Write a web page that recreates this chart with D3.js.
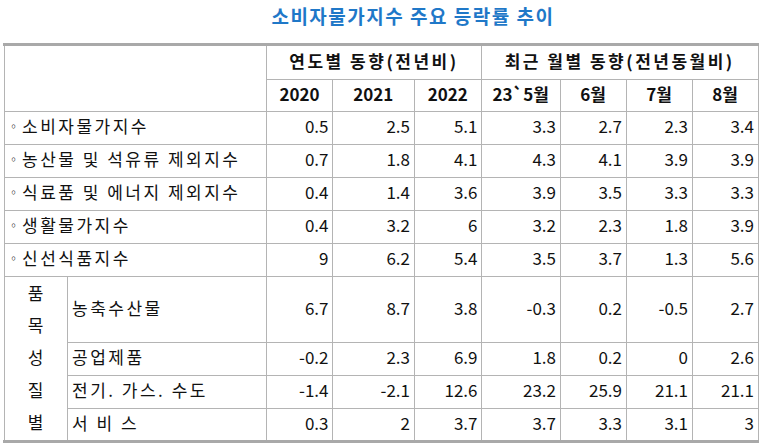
<!DOCTYPE html>
<html>
<head>
<meta charset="utf-8">
<script src="https://cdn.jsdelivr.net/npm/d3@7"></script>
<style>
  body { margin: 0; background: #fff; }
  text { font-family: "Noto Sans CJK KR", "Noto Sans", sans-serif; fill: #111; }
  .kr { letter-spacing: 2.5px; }
</style>
</head>
<body>
<div id="chart"></div>
<script>
// data
var title = "소비자물가지수 주요 등락률 추이";
var groupHeads = ["연도별 동향(전년비)", "최근 월별 동향(전년동월비)"];
var colHeads = ["2020", "2021", "2022", "23`5월", "6월", "7월", "8월"];
var rowLabels = ["소비자물가지수", "농산물 및 석유류 제외지수", "식료품 및 에너지 제외지수",
                 "생활물가지수", "신선식품지수", "농축수산물", "공업제품", "전기. 가스. 수도", "서 비 스"];
var sideLabel = ["품", "목", "성", "질", "별"];
var values = [
  [0.5, 2.5, 5.1, 3.3, 2.7, 2.3, 3.4],
  [0.7, 1.8, 4.1, 4.3, 4.1, 3.9, 3.9],
  [0.4, 1.4, 3.6, 3.9, 3.5, 3.3, 3.3],
  [0.4, 3.2, 6, 3.2, 2.3, 1.8, 3.9],
  [9, 6.2, 5.4, 3.5, 3.7, 1.3, 5.6],
  [6.7, 8.7, 3.8, -0.3, 0.2, -0.5, 2.7],
  [-0.2, 2.3, 6.9, 1.8, 0.2, 0, 2.6],
  [-1.4, -2.1, 12.6, 23.2, 25.9, 21.1, 21.1],
  [0.3, 2, 3.7, 3.7, 3.3, 3.1, 3]
];
var rowSpan = [1, 1, 1, 1, 1, 2, 1, 1, 1];

// layout
var width = 763, height = 447;
var left = 4, subLeft = 67, right = 758;
var colEdges = [266.5, 332.5, 414, 481.5, 560, 626, 692, 758];
var headTop = 45, headMid = 79, bodyTop = 111, bodyBottom = 441;
var lineColor = "#b4b4b4";
var fs = 17;

var svg = d3.select("#chart").append("svg")
    .attr("width", width)
    .attr("height", height);

var xCol = d3.scaleOrdinal().domain(d3.range(colEdges.length)).range(colEdges);

// cumulative row units
var rowStart = [];
var acc = 0;
rowSpan.forEach(function(s) { rowStart.push(acc); acc += s; });
var y = d3.scaleLinear().domain([0, acc]).range([bodyTop, bodyBottom]);

svg.append("text")
    .attr("x", 413).attr("y", 24)
    .attr("text-anchor", "middle")
    .style("font-size", "19px").style("font-weight", "bold")
    .style("letter-spacing", "1.5px")
    .style("fill", "#1f78c8")
    .text(title);

var grid = svg.append("g").attr("stroke", lineColor).attr("stroke-width", 1).attr("shape-rendering", "crispEdges");

// horizontal lines
grid.append("line").attr("x1", colEdges[0]).attr("x2", right).attr("y1", headMid).attr("y2", headMid);
d3.range(acc).forEach(function(u) {
  if (u === rowStart[5] + 1) return;
  var x1 = u > rowStart[5] ? subLeft : left;
  grid.append("line").attr("x1", x1).attr("x2", right).attr("y1", y(u)).attr("y2", y(u));
});
// vertical lines
grid.append("line").attr("x1", left).attr("x2", left).attr("y1", headTop).attr("y2", bodyBottom);
grid.append("line").attr("x1", subLeft).attr("x2", subLeft).attr("y1", y(rowStart[5])).attr("y2", bodyBottom);
colEdges.forEach(function(x, i) {
  var top = (i === 0 || i === 3 || i === colEdges.length - 1) ? headTop : headMid;
  grid.append("line").attr("x1", x).attr("x2", x).attr("y1", top).attr("y2", bodyBottom);
});
// thick top/bottom rules
svg.append("rect").attr("x", left - 1).attr("y", headTop - 2).attr("width", right - left + 2).attr("height", 3).attr("fill", "#a9a9a9");
svg.append("rect").attr("x", left - 1).attr("y", bodyBottom - 1).attr("width", right - left + 2).attr("height", 3).attr("fill", "#a9a9a9");

// group headers
var groupSpans = [[0, 3], [3, 7]];
svg.selectAll(".ghead").data(groupHeads).enter().append("text")
    .attr("class", "kr")
    .attr("x", function(d, i) { return (xCol(groupSpans[i][0]) + xCol(groupSpans[i][1])) / 2; })
    .attr("y", (headTop + headMid) / 2)
    .attr("dy", "0.35em")
    .attr("text-anchor", "middle")
    .style("font-size", fs + "px").style("font-weight", "bold")
    .text(function(d) { return d; });

svg.selectAll(".chead").data(colHeads).enter().append("text")
    .attr("x", function(d, i) { return (xCol(i) + xCol(i + 1)) / 2; })
    .attr("y", (headMid + bodyTop) / 2)
    .attr("dy", "0.35em")
    .attr("text-anchor", "middle")
    .style("font-size", fs + "px").style("font-weight", "bold")
    .text(function(d) { return d; });

// row labels
svg.selectAll(".rlabel").data(rowLabels).enter().append("text")
    .attr("class", "kr")
    .attr("x", function(d, i) { return i < 5 ? left + 18 : subLeft + 5; })
    .attr("y", function(d, i) { return y(rowStart[i] + rowSpan[i] / 2); })
    .attr("dy", "0.35em")
    .style("font-size", fs + "px")
    .text(function(d) { return d; });

svg.selectAll(".bullet").data(rowLabels.slice(0, 5)).enter().append("text")
    .attr("x", left + 4)
    .attr("y", function(d, i) { return y(rowStart[i] + 0.5); })
    .attr("dy", "0.35em")
    .style("font-size", "11px")
    .text("◦");

var sideY = d3.scaleLinear().domain([0, sideLabel.length]).range([y(rowStart[5]) + 2, bodyBottom - 2]);
svg.selectAll(".side").data(sideLabel).enter().append("text")
    .attr("x", (left + subLeft) / 2)
    .attr("y", function(d, i) { return sideY(i + 0.5); })
    .attr("dy", "0.35em")
    .attr("text-anchor", "middle")
    .style("font-size", fs + "px")
    .text(function(d) { return d; });

// values
values.forEach(function(row, r) {
  svg.selectAll(".v" + r).data(row).enter().append("text")
      .attr("x", function(d, i) { return xCol(i + 1) - 4; })
      .attr("y", y(rowStart[r] + rowSpan[r] / 2))
      .attr("dy", "0.35em")
      .attr("text-anchor", "end")
      .style("font-size", fs + "px")
      .text(function(d) { return d; });
});
</script>
</body>
</html>
